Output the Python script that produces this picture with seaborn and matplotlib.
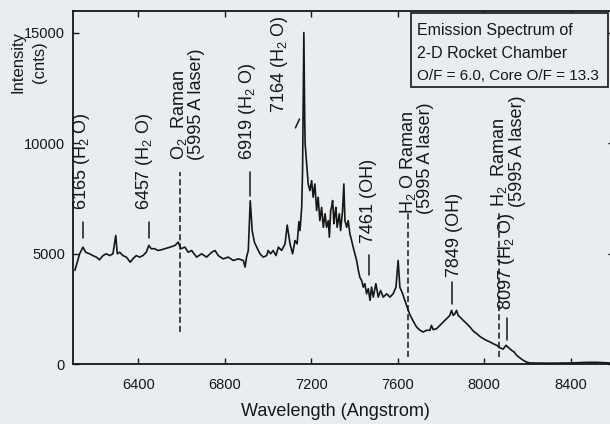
import numpy as np
import pandas as pd
import matplotlib
matplotlib.use("Agg")
import matplotlib.pyplot as plt
from matplotlib.patches import Rectangle
import seaborn as sns

# ---- data ----
wavelength = [6107, 6129, 6144, 6157, 6175, 6190, 6206, 6221, 6237, 6252, 6268, 6283, 6296, 6303,
              6314, 6329, 6345, 6363, 6375, 6391, 6406, 6422, 6437, 6449, 6460, 6476, 6491, 6506,
              6523, 6547, 6570, 6585, 6597, 6616, 6631, 6647, 6670, 6693, 6716, 6740, 6755, 6770,
              6793, 6816, 6839, 6863, 6886, 6894, 6901, 6909, 6918, 6927, 6937, 6948, 6963, 6978,
              6994, 7001, 7012, 7024, 7037, 7048, 7063, 7079, 7089, 7102, 7114, 7125, 7135, 7143,
              7148, 7156, 7160, 7166, 7170, 7172, 7179, 7186, 7194, 7202, 7209, 7217, 7225, 7232,
              7240, 7248, 7256, 7264, 7271, 7279, 7284, 7290, 7294, 7299, 7305, 7310, 7314, 7320,
              7330, 7336, 7345, 7351, 7356, 7364, 7371, 7379, 7387, 7394, 7402, 7410, 7418, 7425,
              7433, 7441, 7448, 7456, 7464, 7472, 7479, 7487, 7499, 7510, 7521, 7533, 7549, 7564,
              7579, 7592, 7602, 7610, 7623, 7633, 7644, 7656, 7672, 7687, 7703, 7718, 7734, 7749,
              7756, 7764, 7780, 7795, 7810, 7826, 7841, 7849, 7857, 7865, 7872, 7880, 7888, 7903,
              7919, 7934, 7949, 7965, 7980, 7996, 8011, 8027, 8042, 8058, 8073, 8088, 8101, 8112,
              8127, 8138, 8150, 8165, 8181, 8196, 8212, 8300, 8400, 8480, 8520, 8580]
intensity = [4250, 5000, 5300, 5070, 5000, 4920, 4850, 4730, 4920, 5000, 4920, 5000, 5830, 5000,
             5070, 4920, 4850, 4620, 4770, 4920, 4850, 4920, 5070, 5380, 5230, 5230, 5150, 5180,
             5230, 5300, 5380, 5530, 5230, 5300, 5070, 5150, 4850, 5000, 4850, 5070, 5150, 4920,
             4770, 4850, 4700, 4770, 4700, 4400, 4850, 5150, 7400, 6050, 5530, 5300, 5000, 4850,
             4920, 5150, 5000, 5150, 4920, 5300, 5150, 5450, 6300, 5450, 5000, 5600, 5450, 6450,
             6050, 7100, 8760, 15010, 11000, 9970, 9060, 8160, 7860, 8310, 7560, 8160, 6960, 7560,
             6500, 7100, 6200, 6810, 6200, 6500, 5750, 6960, 7100, 7410, 6360, 6810, 7100, 6200,
             6810, 6050, 6960, 8160, 6500, 6200, 6500, 5900, 5600, 5300, 5000, 4700, 4250, 3940,
             3790, 3490, 3650, 3190, 3420, 2890, 3490, 3040, 3650, 3040, 3340, 3040, 3190, 3040,
             3190, 3490, 4700, 3490, 3190, 2890, 2590, 2250, 1950, 1690, 1540, 1460, 1540, 1540,
             1760, 1570, 1610, 1760, 1910, 2060, 2210, 2440, 2210, 2290, 2440, 2210, 2140, 1990,
             1840, 1690, 1510, 1390, 1260, 1160, 1080, 1010, 930, 860, 740, 690, 860, 760,
             630, 560, 410, 290, 180, 100, 60, 50, 60, 90, 90, 60]

x_ticks = [6400, 6800, 7200, 7600, 8000, 8400]
y_ticks = [0, 5000, 10000, 15000]

# line annotations: label, text x, text bottom y
peak_labels = ["6165 (H$_2$ O)", "6457 (H$_2$ O)", "6919 (H$_2$ O)", "7164 (H$_2$ O)",
               "7461 (OH)", "7849 (OH)", "8097 (H$_2$ O)"]
peak_text_x = [6137, 6431, 6907, 7055, 7463, 7865, 8105]
peak_text_y = [6980, 6980, 9240, 11370, 5490, 3950, 2460]
peak_mark_x0 = [6143, 6449, 6919, 7127, 7467, 7853, 8105]
peak_mark_x1 = [6143, 6449, 6919, 7146, 7467, 7853, 8105]
peak_mark_y0 = [5710, 5710, 7610, 10700, 4040, 2730, 1100]
peak_mark_y1 = [6430, 6430, 8700, 11100, 4950, 3720, 2100]

raman_labels = ["O$_2$  Raman\n(5995 A laser)", "H$_2$ O Raman\n(5995 A laser)",
                "H$_2$  Raman\n(5995 A laser)"]
raman_text_x = [6625, 7685, 8108]
raman_text_y = [9240, 6800, 7120]
raman_line_x = [6593, 7647, 8068]
raman_line_y0 = [1460, 330, 330]
raman_line_y1 = [8700, 6850, 6850]

box_lines = ["Emission Spectrum of", "2-D Rocket Chamber", "O/F = 6.0, Core O/F = 13.3"]
ylabel_lines = ["Intensity", "(cnts)"]

# ---- styling ----
sns.set_theme(style="ticks")
plt.rcParams["font.family"] = ["Liberation Sans", "DejaVu Sans"]
plt.rcParams["mathtext.fontset"] = "custom"
plt.rcParams["mathtext.rm"] = "Liberation Sans"
plt.rcParams["mathtext.it"] = "Liberation Sans"
plt.rcParams["mathtext.default"] = "regular"

bg = "#eaedf0"
ink = "#161616"

fig = plt.figure(figsize=(6.1, 4.24), dpi=100, facecolor=bg)
ax = fig.add_axes([0.1203, 0.1408, 0.8861, 0.834])
ax.set_facecolor(bg)

df = pd.DataFrame({"wl": wavelength, "I": intensity})
sns.lineplot(data=df, x="wl", y="I", ax=ax, color=ink, lw=1.2,
             estimator=None, sort=False)

ax.set_xlim(6100, 8600)
ax.set_ylim(0, 16000)
ax.set_xticks(x_ticks)
ax.set_yticks(y_ticks)
ax.set_xlabel("")
ax.set_ylabel("")
ax.tick_params(axis="both", direction="in", top=True, right=True, length=4,
               width=1.0, color=ink, labelcolor=ink, labelsize=10.5)
ax.tick_params(axis="x", pad=10)
ax.tick_params(axis="y", pad=6)
for s in ax.spines.values():
    s.set_linewidth(1.3)
    s.set_color(ink)

# peak annotations
for lab, tx, ty, x0, x1, y0, y1 in zip(peak_labels, peak_text_x, peak_text_y,
                                       peak_mark_x0, peak_mark_x1, peak_mark_y0, peak_mark_y1):
    ax.text(tx, ty, lab, rotation=90, ha="center", va="bottom", fontsize=13, color=ink)
    ax.plot([x0, x1], [y0, y1], color=ink, lw=1.1)

for lab, tx, ty, lx, y0, y1 in zip(raman_labels, raman_text_x, raman_text_y,
                                   raman_line_x, raman_line_y0, raman_line_y1):
    ax.text(tx, ty, lab, rotation=90, ha="center", va="bottom", fontsize=13,
            color=ink, multialignment="left", linespacing=0.95)
    ax.plot([lx, lx], [y0, y1], color=ink, lw=1.1, ls=(0, (4, 2)))

# title box
fig.patches.append(Rectangle((411 / 610, 1 - 87 / 424), 197 / 610, 74 / 424,
                             transform=fig.transFigure, facecolor=bg,
                             edgecolor=ink, lw=1.2, zorder=5))
box_sizes = [11.5, 11.5, 11]
for i, line in enumerate(box_lines):
    fig.text(417 / 610, 1 - (30 + 23 * i) / 424, line, ha="left", va="center",
             fontsize=box_sizes[i], color=ink, zorder=6)

# y-axis label (two rotated lines)
for txt, px in zip(ylabel_lines, [18, 40]):
    fig.text(px / 610, 1 - 62 / 424, txt, rotation=90, ha="center", va="center",
             fontsize=12, color=ink)
fig.text(335 / 610, 1 - 412 / 424, "Wavelength (Angstrom)", ha="center", va="center",
         fontsize=13, color=ink)

fig.savefig("out.png", dpi=100, facecolor=bg)
